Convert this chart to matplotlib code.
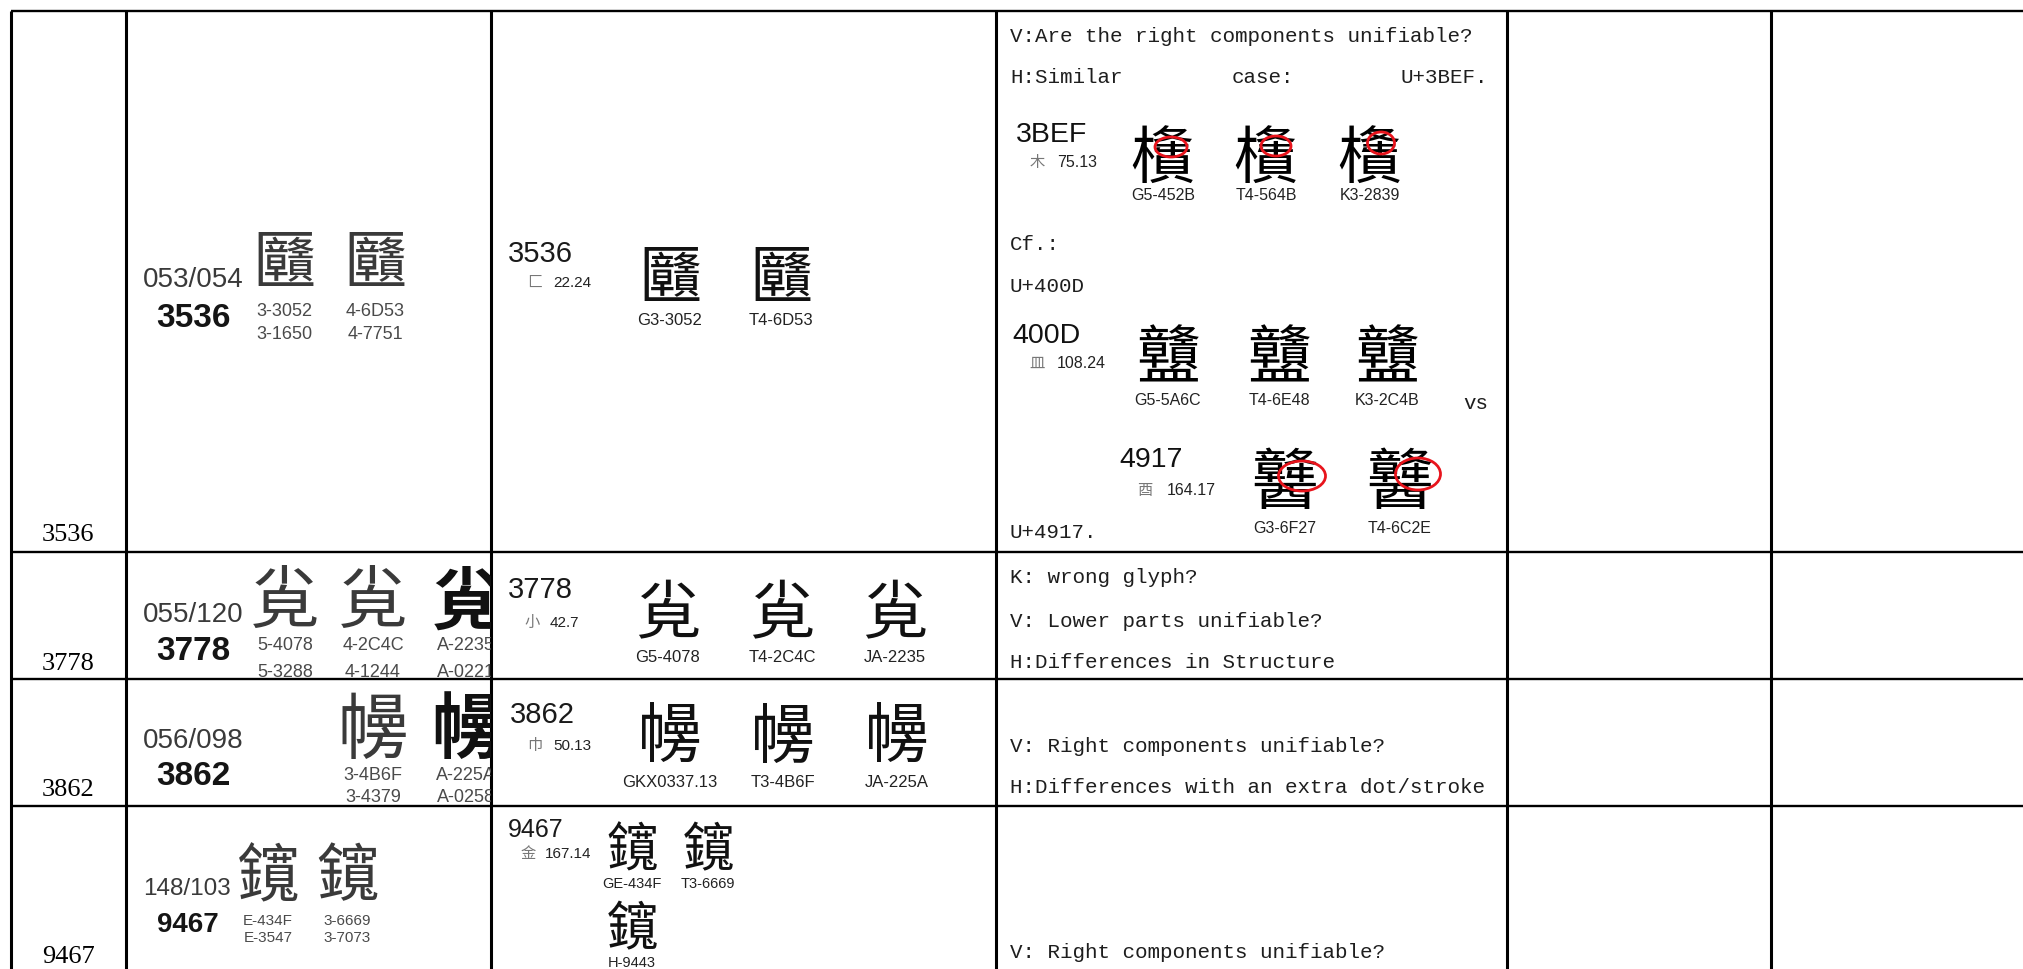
import matplotlib
matplotlib.use('Agg')
import matplotlib.pyplot as plt
from matplotlib.patches import Ellipse
from matplotlib.transforms import Bbox

# ---- table content ----
serials = ['3536', '3778', '3862', '9467']
codepoints = [0x3536, 0x3778, 0x3862, 0x9467]
source_refs = ['053/054', '055/120', '056/098', '148/103']
# column 2: two source codes under each glyph
src_codes = [
    [('3-3052', '3-1650'), ('4-6D53', '4-7751')],
    [('5-4078', '5-3288'), ('4-2C4C', '4-1244'), ('A-2235', 'A-0221')],
    [('3-4B6F', '3-4379'), ('A-225A', 'A-0258')],
    [('E-434F', 'E-3547'), ('3-6669', '3-7073')],
]
src_fonts = [['SC', 'TC'], ['SC', 'TC', 'JP'], ['TC', 'JP'], ['SC', 'TC']]
# column 3: radical / stroke index and IRG sources
radicals = ['匚', '小', '巾', '金']
radical_strokes = ['22.24', '42.7', '50.13', '167.14']
irg_sources = [
    ['G3-3052', 'T4-6D53'],
    ['G5-4078', 'T4-2C4C', 'JA-2235'],
    ['GKX0337.13', 'T3-4B6F', 'JA-225A'],
    ['GE-434F', 'T3-6669', 'H-9443'],
]
# column 4: remarks
remark_row1 = ['V:Are the right components unifiable?', 'Cf.:', 'U+400D', 'vs', 'U+4917.']
similar_case = ['H:Similar', 'case:', 'U+3BEF.']
remarks = [
    ['K: wrong glyph?', 'V: Lower parts unifiable?', 'H:Differences in Structure'],
    ['V: Right components unifiable?', 'H:Differences with an extra dot/stroke'],
    ['V: Right components unifiable?'],
]
cf_codes = ['3BEF', '400D', '4917']
cf_radicals = ['木', '皿', '酉']
cf_strokes = ['75.13', '108.24', '164.17']
cf_sources = [['G5-452B', 'T4-564B', 'K3-2839'],
              ['G5-5A6C', 'T4-6E48', 'K3-2C4B'],
              ['G3-6F27', 'T4-6C2E']]

cjk = {'G': 'Noto Sans CJK SC', 'T': 'Noto Sans CJK TC', 'J': 'Noto Sans CJK JP',
       'K': 'Noto Sans CJK KR', 'H': 'Noto Sans CJK TC',
       'SC': 'Noto Sans CJK SC', 'TC': 'Noto Sans CJK TC', 'JP': 'Noto Sans CJK JP'}

W, H = 2024, 969
fig = plt.figure(figsize=(W / 100, H / 100), dpi=100)
ax = fig.add_axes([0, 0, 1, 1])
ax.set_xlim(0, W)
ax.set_ylim(H, 0)
ax.axis('off')

SANS = ['Liberation Sans', 'DejaVu Sans']
MONO = ['Liberation Mono', 'DejaVu Sans Mono']


def glyph(x, y, ch, size, font, color='black', clip=None, **kw):
    # y is the centre of the ideograph ink
    t = ax.text(x, y + 0.38 * size * 100 / 72, ch, fontsize=size, family=[font, 'DejaVu Sans'],
                ha='center', va='baseline', color=color, **kw)
    if clip is not None:
        t.set_clip_box(clip)
        t.set_clip_on(True)
    return t


def label(x, y, s, size, color='#222222', ha='center', clip=None, **kw):
    t = ax.text(x, y, s, fontsize=size, family=SANS, ha=ha, va='baseline', color=color, **kw)
    if clip is not None:
        t.set_clip_box(clip)
        t.set_clip_on(True)
    return t


# ---- grid ----
col_x = [11, 126, 491, 996, 1507, 1771]
row_y = [11, 552, 679, 806]
ax.vlines(col_x, 11, H, color='black', lw=2.2)
ax.hlines(row_y, 11, W, color='black', lw=1.7)

# ---- column 1 ----
base1 = [541, 670, 796, 963]
for s, b in zip(serials, base1):
    ax.text(42, b, s, fontsize=19, family=['Liberation Serif'], va='baseline', ha='left')

# ---- column 2 ----
c2 = [
    dict(ref=(287, 20), ser=(193, 327, 24), gx=[284, 375], gy=259, gs=46, lab=(316, 339), ls=13),
    dict(ref=(622, 20), ser=(193, 660, 24), gx=[285, 373, 466], gy=597, gs=50, lab=(650, 677), ls=13),
    dict(ref=(748, 20), ser=(193, 785, 24), gx=[373, 466], gy=726, gs=52, lab=(780, 802), ls=13),
    dict(ref=(895, 17.5), ser=(188, 932, 20), gx=[268, 347], gy=872, gs=46, lab=(925, 942), ls=11),
]
for i, L in enumerate(c2):
    clip = Bbox.from_extents(126, H - row_y[i + 1] if i < 3 else 0, 491, H - row_y[i])
    ax.text(143, L['ref'][0], source_refs[i], fontsize=L['ref'][1], family=SANS,
            va='baseline', color='#3a3a3a')
    label(L['ser'][0], L['ser'][1], serials[i], L['ser'][2], color='#151515', weight='bold')
    ch = chr(codepoints[i])
    for j, x in enumerate(L['gx']):
        bold = src_fonts[i][j] == 'JP'
        glyph(x, L['gy'], ch, L['gs'], cjk[src_fonts[i][j]], color='#111111' if bold else '#3a3a3a',
              weight='bold' if bold else 'normal', clip=clip)
        label(x, L['lab'][0], src_codes[i][j][0], L['ls'], color='#4a4a4a', clip=clip)
        label(x, L['lab'][1], src_codes[i][j][1], L['ls'], color='#4a4a4a', clip=clip)

# ---- column 3 ----
c3 = [
    dict(num=(508, 262, 21), rad=(535, 553, 287), gx=[670, 781], gy=[274, 274], gs=46, lab=[325, 325]),
    dict(num=(508, 598, 21), rad=(532, 550, 627), gx=[668, 782, 895], gy=[610] * 3, gs=47, lab=[662] * 3),
    dict(num=(510, 723, 21), rad=(535, 553, 750), gx=[670, 783, 897], gy=[733] * 3, gs=47, lab=[787] * 3),
    dict(num=(508, 837, 18), rad=(528, 545, 858), gx=[632, 708, 632], gy=[846, 846, 925], gs=38,
         lab=[888, 888, 967]),
]
for i, L in enumerate(c3):
    x, b, fs = L['num']
    label(x, b, serials[i], fs, color='#1a1a1a', ha='left')
    rx, sx, rb = L['rad']
    ax.text(rx, rb, radicals[i], fontsize=11, family=[cjk['TC']], ha='center', va='baseline',
            color='#777777')
    label(sx, rb, radical_strokes[i], 11, color='#222222', ha='left')
    ch = chr(codepoints[i])
    for j, gx in enumerate(L['gx']):
        src = irg_sources[i][j]
        glyph(gx, L['gy'][j], ch, L['gs'], cjk[src[0]], color='#111111')
        label(gx, L['lab'][j], src, 12 if i < 3 else 10.5, color='#222222')

# ---- column 4 ----
def note(x, y, s, ha='left'):
    ax.text(x, y, s, fontsize=15, family=MONO, ha=ha, va='baseline', color='#1e1e1e')


note(1010, 42, remark_row1[0])
note(1010, 83, similar_case[0])
note(1232, 83, similar_case[1])
note(1488, 83, similar_case[2], ha='right')
note(1010, 250, remark_row1[1])
note(1010, 292, remark_row1[2])
note(1463, 409, remark_row1[3])
note(1010, 538, remark_row1[4])

cf = [
    dict(code=(1016, 142), rad=(1037, 1057, 167), gx=[1163, 1266, 1370], gy=154, gs=45, lab=200),
    dict(code=(1012, 343), rad=(1037, 1057, 368), gx=[1168, 1279, 1387], gy=354, gs=46, lab=405),
    dict(code=(1119, 467), rad=(1145, 1167, 495), gx=[1285, 1400], gy=479, gs=48, lab=533),
]
for k, L in enumerate(cf):
    label(L['code'][0], L['code'][1], cf_codes[k], 20.5, color='#111111', ha='left')
    rx, sx, rb = L['rad']
    ax.text(rx, rb, cf_radicals[k], fontsize=11, family=[cjk['TC']], ha='center', va='baseline',
            color='#777777')
    label(sx, rb, cf_strokes[k], 11.5, color='#222222', ha='left')
    ch = chr(int(cf_codes[k], 16))
    for j, gx in enumerate(L['gx']):
        src = cf_sources[k][j]
        glyph(gx, L['gy'], ch, L['gs'], cjk[src[0]], color='black')
        label(gx, L['lab'], src, 11.5, color='#222222')

# red circles marking the differing component
for (cx, cy), w, h in [((1171, 147), 32, 20), ((1276, 146), 30, 20), ((1381, 143), 27, 22),
                       ((1302, 476), 47, 30), ((1418, 474), 45, 32)]:
    ax.add_patch(Ellipse((cx, cy), w, h, fill=False, ec='#e8141c', lw=2.0, zorder=5))

base_rows = [[583, 627, 668], [752, 793], [958]]
for lines, bases in zip(remarks, base_rows):
    for s, b in zip(lines, bases):
        note(1010, b, s)

fig.savefig('out.png', dpi=100)
